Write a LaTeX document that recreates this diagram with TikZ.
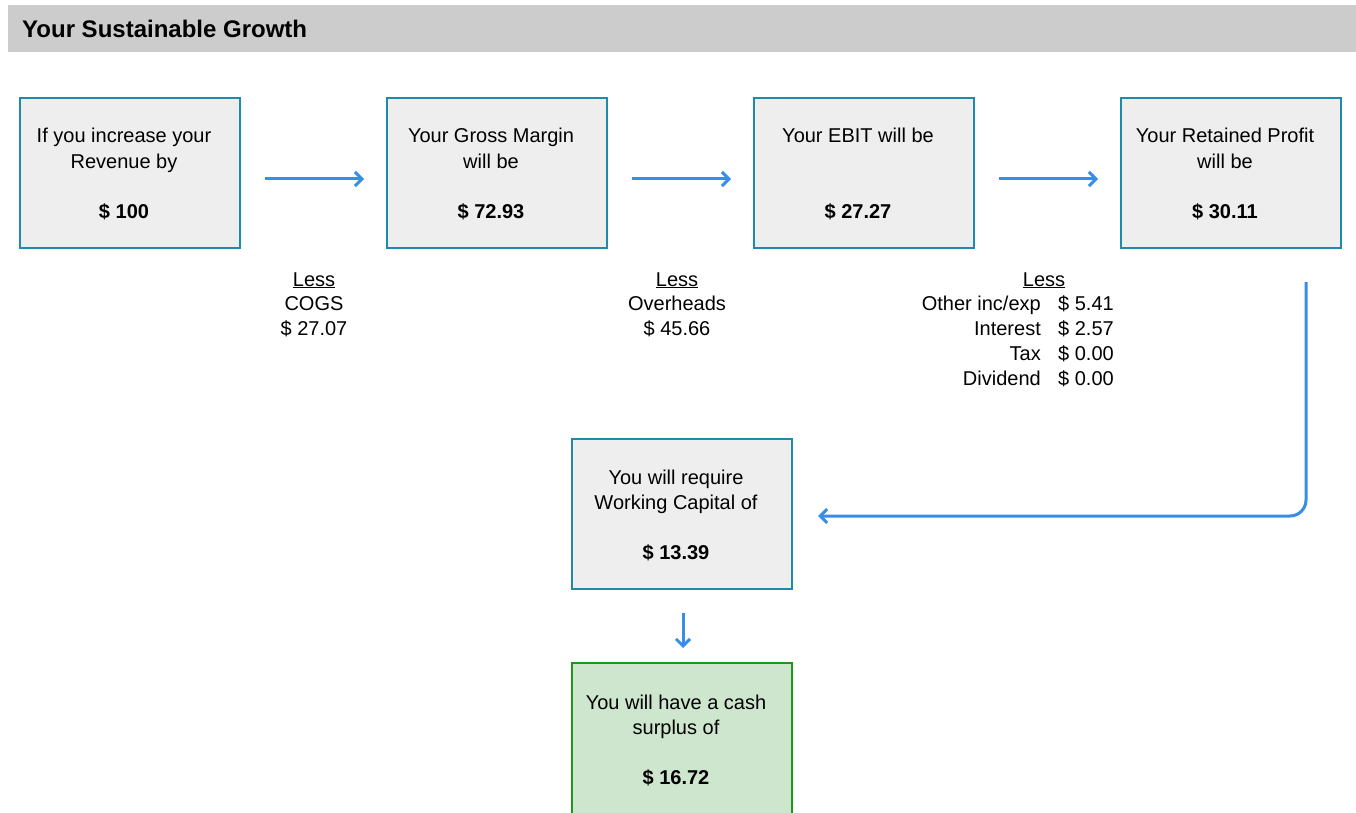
\documentclass[tikz,border=0pt]{standalone}
\usepackage{fontspec}
\setmainfont{Liberation Sans}
\usetikzlibrary{arrows.meta}
\definecolor{boxborder}{RGB}{30,139,172}
\definecolor{boxfill}{RGB}{238,238,238}
\definecolor{arrowblue}{RGB}{55,141,232}
\definecolor{greenborder}{RGB}{30,150,30}
\definecolor{greenfill}{RGB}{205,230,205}
\definecolor{headfill}{RGB}{204,204,204}
\tikzset{
  gbox/.style={draw=boxborder, fill=boxfill, line width=2pt, minimum width=220pt, minimum height=150pt, inner sep=0pt},
  okbox/.style={draw=greenborder, fill=greenfill, line width=2pt, minimum width=220pt, minimum height=170pt, inner sep=0pt},
  lbl/.style={anchor=base, inner sep=0pt, font=\fontsize{20}{25}\selectfont},
  blbl/.style={lbl, font=\fontsize{20}{25}\selectfont\bfseries},
  rlbl/.style={lbl, anchor=base east},
  vlbl/.style={lbl, anchor=base west},
  arr/.style={draw=arrowblue, line width=3pt, -{Straight Barb[length=7pt,width=14pt]}},
}
\begin{document}
\begin{tikzpicture}[x=1pt, y=-1pt]
\clip (0,0) rectangle (1356,813);
\fill[white] (0,0) rectangle (1356,813);
% header
\fill[headfill] (8,5) rectangle (1356,52);
\node[anchor=base west, inner sep=0pt, font=\fontsize{24}{28}\selectfont\bfseries] (title) at (22,37.5) {Your Sustainable Growth};
% boxes
\node[gbox] (b1) at (130,173) {};
\node[gbox] (b2) at (497,173) {};
\node[gbox] (b3) at (864,173) {};
\node[gbox] (b4) at (1231,173) {};
\node[gbox] (b5) at (682,513.5) {};
\node[okbox] (b6) at (682,748) {};
% box texts
\node[lbl] (t1a) at (124,143) {If you increase your};
\node[lbl] (t1b) at (124,168) {Revenue by};
\node[blbl] (t1c) at (124,218) {\$ 100};
\node[lbl] (t2a) at (491,143) {Your Gross Margin};
\node[lbl] (t2b) at (491,168) {will be};
\node[blbl] (t2c) at (491,218) {\$ 72.93};
\node[lbl] (t3a) at (858,143) {Your EBIT will be};
\node[blbl] (t3c) at (858,218) {\$ 27.27};
\node[lbl] (t4a) at (1225,143) {Your Retained Profit};
\node[lbl] (t4b) at (1225,168) {will be};
\node[blbl] (t4c) at (1225,218) {\$ 30.11};
\node[lbl] (t5a) at (676,484) {You will require};
\node[lbl] (t5b) at (676,509) {Working Capital of};
\node[blbl] (t5c) at (676,559) {\$ 13.39};
\node[lbl] (t6a) at (676,709) {You will have a cash};
\node[lbl] (t6b) at (676,734) {surplus of};
\node[blbl] (t6c) at (676,784) {\$ 16.72};
% less tables
\node[lbl] (l1a) at (314,286) {\underline{Less}};
\node[lbl] (l1b) at (314,310) {COGS};
\node[lbl] (l1c) at (314,335) {\$ 27.07};
\node[lbl] (l2a) at (677,286) {\underline{Less}};
\node[lbl] (l2b) at (677,310) {Overheads};
\node[lbl] (l2c) at (677,335) {\$ 45.66};
\node[lbl] (l3a) at (1044,286) {\underline{Less}};
\node[rlbl] (l3b) at (1041,310) {Other inc/exp};
\node[vlbl] (l3c) at (1058,310) {\$ 5.41};
\node[rlbl] (l3d) at (1041,335) {Interest};
\node[vlbl] (l3e) at (1058,335) {\$ 2.57};
\node[rlbl] (l3f) at (1041,360) {Tax};
\node[vlbl] (l3g) at (1058,360) {\$ 0.00};
\node[rlbl] (l3h) at (1041,385) {Dividend};
\node[vlbl] (l3i) at (1058,385) {\$ 0.00};
% connectors
\draw[arr, shorten <=24pt, shorten >=22pt] ([yshift=-6pt]b1.east) -- ([yshift=-6pt]b2.west);
\draw[arr, shorten <=24pt, shorten >=22pt] ([yshift=-6pt]b2.east) -- ([yshift=-6pt]b3.west);
\draw[arr, shorten <=24pt, shorten >=22pt] ([yshift=-6pt]b3.east) -- ([yshift=-6pt]b4.west);
\coordinate (c1) at (1306,282);
\draw[arr, rounded corners=16pt, shorten >=25pt] (c1) |- ([yshift=-2.5pt]b5.east);
\draw[arr, shorten <=23pt, shorten >=14pt] ([xshift=1pt]b5.south) -- ([xshift=1pt]b6.north);
\end{tikzpicture}
\end{document}
